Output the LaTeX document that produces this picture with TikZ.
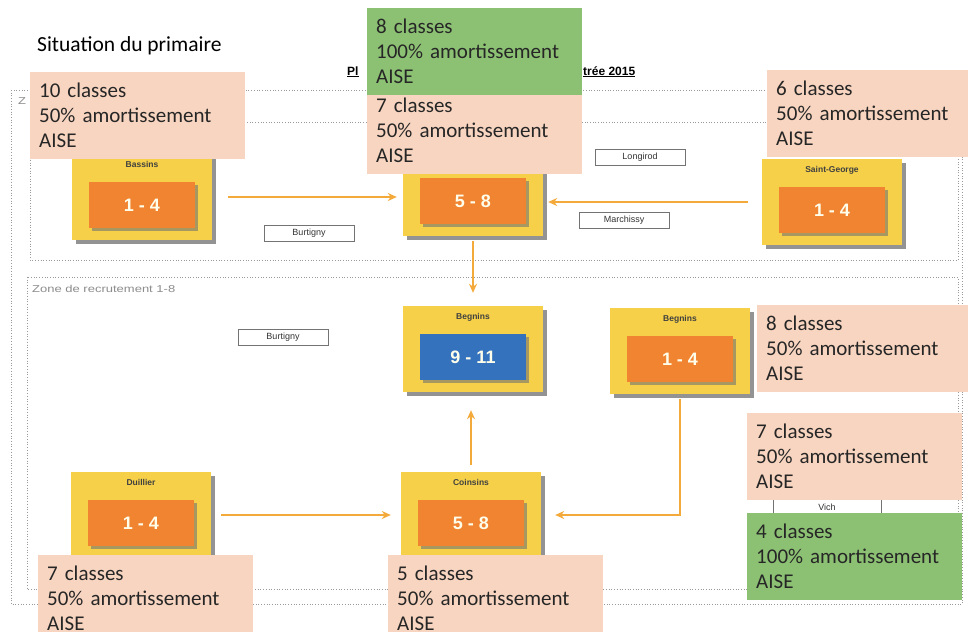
\documentclass[tikz,border=0pt]{standalone}
\usepackage{fontspec}
\setmainfont{Carlito}
\newfontfamily\arialfont{Liberation Sans}
\newfontfamily\zonefont[FakeStretch=1.3]{Liberation Sans}
\usetikzlibrary{positioning,shadows,arrows.meta}
\definecolor{sunyellow}{RGB}{245,208,72}
\definecolor{gradeorange}{RGB}{240,132,48}
\definecolor{gradeblue}{RGB}{52,114,190}
\definecolor{notepeach}{RGB}{248,213,192}
\definecolor{notegreen}{RGB}{140,193,116}
\definecolor{linkorange}{RGB}{243,170,58}

\begin{document}
\begin{tikzpicture}
  [x=1pt,y=-1pt,
   school/.style={fill=sunyellow,minimum width=140pt,minimum height=86pt,inner sep=0pt,
     drop shadow={shadow xshift=4pt,shadow yshift=-4pt,fill=black!60,opacity=.7}},
   grade/.style={minimum width=106pt,minimum height=46pt,inner sep=0pt,
     text=white!92!yellow,font=\arialfont\bfseries\fontsize{18}{20}\selectfont,
     drop shadow={shadow xshift=3pt,shadow yshift=-3pt,fill=black!55,opacity=.6}},
   schoolname/.style={font=\arialfont\bfseries\fontsize{8.5}{10}\selectfont,text=black!75,inner sep=1pt},
   village/.style={draw=black!55,line width=.6pt,fill=white,minimum width=90pt,minimum height=16pt,
     inner sep=0pt,font=\arialfont\fontsize{9}{10}\selectfont,text=black!80},
   note/.style={anchor=north west,fill=notepeach,text width=197pt,inner xsep=9pt,inner ysep=0pt,
     text height=25pt,text depth=62pt,align=left,font=\fontsize{21}{25}\selectfont,text=black!85},
   zone/.style={draw=black!40,dotted,line width=.7pt},
   link/.style={draw=linkorange,line width=2pt,-{Stealth[length=9pt,width=8pt]}}]
  \useasboundingbox[fill=white] (0,0) rectangle (968,634);
  \clip (0,0) rectangle (968,634);

  % zones
  \draw[zone] (11,90) rectangle (962,604);
  \draw[zone] (30,122) rectangle (958,260);
  \draw[zone] (27,277) rectangle (958,589);
  \node[anchor=west,inner sep=0pt,text=black!45,font=\zonefont\fontsize{10}{12}\selectfont] (zoneA) at (18,101) {Z};
  \node[anchor=west,inner sep=0pt,text=black!45,font=\zonefont\fontsize{10}{12}\selectfont] (zoneB) at (32,289) {Zone de recrutement 1-8};

  % titles
  \node[anchor=base west,inner sep=0pt,font=\fontsize{21.5}{24}\selectfont] (titre) at (37,52) {Situation du primaire};
  \node[anchor=base west,inner sep=0pt,font=\arialfont\bfseries\fontsize{12}{14}\selectfont] (planA) at (347,75) {\underline{Pl}};
  \node[anchor=base west,inner sep=0pt,font=\arialfont\bfseries\fontsize{12}{14}\selectfont] (planB) at (583,75) {\underline{trée 2015}};

  % villages
  \node[village] (burtignyA) at (309,233) {Burtigny};
  \node[village] (longirod) at (640,157) {Longirod};
  \node[village] (marchissy) at (624,220) {Marchissy};
  \node[village] (burtignyB) at (283,337) {Burtigny};
  \node[village,minimum width=108pt,minimum height=24pt] (vich) at (827,507) {Vich};

  % schools
  \foreach \id/\x/\y/\town/\grades/\col in {bassins/142/197/Bassins/1 - 4/gradeorange,
      top58/473/193//5 - 8/gradeorange, stgeorge/832/202/Saint-George/1 - 4/gradeorange,
      begninsA/473/349/Begnins/9 - 11/gradeblue, begninsB/680/351/Begnins/1 - 4/gradeorange,
      duillier/141/515/Duillier/1 - 4/gradeorange, coinsins/471/515/Coinsins/5 - 8/gradeorange} {
    \node[school] (\id) at (\x,\y) {};
    \node[schoolname,below=6pt of \id.north] (\id name) {\town};
    \node[grade,fill=\col,below=28pt of \id.north] (\id grade) {\grades};
  }

  % links
  \draw[link,shorten <=16pt,shorten >=6pt] (bassins.east) -- (bassins.east -| top58.west);
  \draw[link,shorten <=14pt,shorten >=5pt] (stgeorge.west) -- (stgeorge.west -| top58.east);
  \draw[link,shorten <=5pt,shorten >=13pt] (top58.south) -- (begninsA.north);
  \draw[link,shorten <=7pt,shorten >=18pt] (coinsins.north) -- (coinsins.north |- begninsA.south);
  \draw[link,shorten <=10pt,shorten >=10pt] (duillier.east) -- (coinsins.west);
  \draw[link,shorten <=5pt,shorten >=14pt] (begninsB.south) |- (coinsins.east);

  % notes
  \node[note] (bassinsnote) at (30,72) {10 classes\\50\% amortissement\\AISE};
  \node[note] (top58note) at (367,87) {7 classes\\50\% amortissement\\AISE};
  \node[note,fill=notegreen] (top58green) at (367,8) {8 classes\\100\% amortissement\\AISE};
  \node[note] (stgeorgenote) at (767,70) {6 classes\\50\% amortissement\\AISE};
  \node[note] (begninsnote) at (757,305) {8 classes\\50\% amortissement\\AISE};
  \node[note] (vichnote) at (747,413) {7 classes\\50\% amortissement\\AISE};
  \node[note,fill=notegreen] (vichgreen) at (747,513) {4 classes\\100\% amortissement\\AISE};
  \node[note,text depth=52pt] (duilliernote) at (38,555) {7 classes\\50\% amortissement\\AISE};
  \node[note,text depth=52pt] (coinsinsnote) at (388,555) {5 classes\\50\% amortissement\\AISE};
\end{tikzpicture}
\end{document}
